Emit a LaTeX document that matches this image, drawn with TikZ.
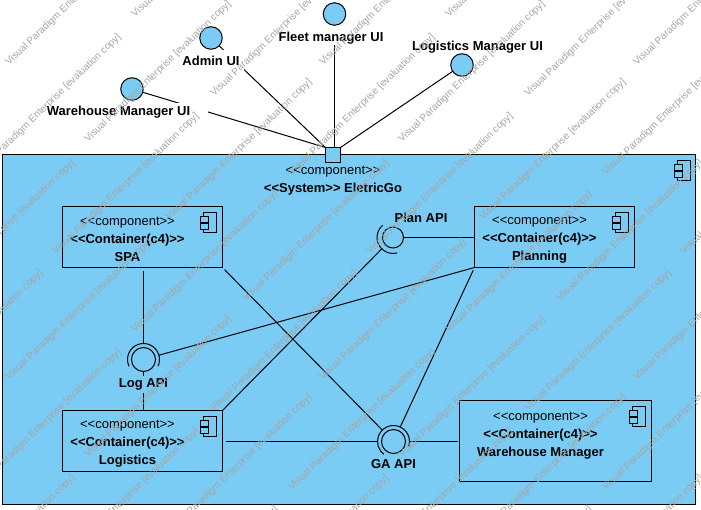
\documentclass[tikz,border=0pt]{standalone}
\usepackage{fontspec}
\setmainfont{Liberation Sans}
\usepackage{xcolor}
\usetikzlibrary{positioning}
\definecolor{vpblue}{RGB}{122,204,245}
\definecolor{vpgray}{RGB}{165,165,165}
\newcommand{\stereo}[1]{<{}<#1>{}>}
\tikzstyle{comp} = [draw=black,fill=vpblue,line width=1pt,rectangle,inner sep=0pt,outer sep=0pt]
\tikzstyle{comptxt} = [align=center,inner sep=0pt,font=\fontsize{13}{18}\selectfont]
\tikzstyle{ball} = [draw=black,fill=vpblue,line width=1pt,circle,inner sep=0pt,outer sep=0pt]
\tikzstyle{socket} = [circle,inner sep=0pt,outer sep=0pt,minimum size=32pt]
\tikzstyle{conn} = [line width=1pt,black]
\tikzstyle{lbl} = [inner sep=0pt,font=\fontsize{13}{15}\selectfont\bfseries,text height=9.3pt,text depth=2.8pt]
\tikzstyle{wmark} = [text=vpgray,rotate=44,anchor=base west,inner sep=0pt,font=\fontsize{10}{12}\selectfont]
\tikzset{compicon/.pic={
  \draw[line width=1pt,fill=vpblue] (0,0) rectangle (13,20);
  \draw[line width=1pt,fill=vpblue] (-3,4) rectangle (5,10);
  \draw[line width=1pt,fill=vpblue] (-3,11) rectangle (5,17);
}}
\begin{document}
\begin{tikzpicture}[x=1pt,y=-1pt]
\useasboundingbox (0,0) rectangle (701,510);
\clip (0,0) rectangle (701,510);
% System box and its port
\node[comp,minimum width=693pt,minimum height=350pt] (system) at (349,329.5) {};
\node[comp,minimum size=15pt] (port) at (333,155) {};

% Containers
\node[comp,minimum width=160pt,minimum height=61pt] (spa) at (142.5,237) {};
\node[comp,minimum width=160pt,minimum height=61pt] (planning) at (554.5,237) {};
\node[comp,minimum width=160pt,minimum height=61pt] (logistics) at (142.5,441) {};
\node[comp,minimum width=192pt,minimum height=81pt] (warehouse) at (555.5,441) {};

% UI circles
\node[ball,minimum size=22.5pt] (warehouseui) at (132,89) {};
\node[ball,minimum size=22.5pt] (adminui) at (211,38) {};
\node[ball,minimum size=22.5pt] (fleetui) at (334.5,14) {};
\node[ball,minimum size=22.5pt] (logisticsui) at (462,65) {};

% Sockets of the APIs
\node[socket] (planapi) at (393,237.5) {};
\node[socket] (logapi) at (143.5,359.5) {};
\node[socket] (gaapi) at (393.5,441.5) {};
\node[ball,minimum size=21pt] (planball) at (393,237.5) {};
\node[ball,minimum size=24pt] (logball) at (143.5,359.5) {};
\node[ball,minimum size=24pt] (gaball) at (393.5,441.5) {};
\draw[conn] (planapi.130) arc[start angle=130,end angle=285,radius=16pt];
\draw[conn] (logapi.-25) arc[start angle=-25,end angle=205,radius=16pt];
\draw[conn] (gaapi.-17) arc[start angle=-17,end angle=233,radius=16pt];

% Connectors
\draw[conn] (warehouseui) -- (port.north west);
\draw[conn] (adminui) -- (port.north west);
\draw[conn] (fleetui) -- (fleetui |- port.north);
\draw[conn] (logisticsui) -- (port.north east);
\draw[conn,shorten <=4pt] (logapi |- spa.south) -- (logapi.north);
\draw[conn] (logball) -- (logapi |- logistics.north);
\draw[conn] (logapi) -- (planning.south west);
\draw[conn] (planball) -- (planball -| planning.west);
\draw[conn] (planapi) -- (logistics.north east);
\draw[conn,shorten <=3pt] (spa.south east) -- (gaapi);
\draw[conn,shorten <=3pt] (planning.south west) -- (gaapi);
\draw[conn,shorten <=3pt] (gaapi -| logistics.east) -- (gaapi);
\draw[conn,shorten >=1.5pt] (gaapi) -- (gaapi -| warehouse.west);

% Labels, which hide the connectors behind them
\node[lbl,fill=white,minimum width=179pt,minimum height=18pt] (warehouselbl) at (118.5,112.5) {Warehouse Manager UI};
\node[lbl,fill=white,minimum width=66pt,minimum height=24pt] (adminlbl) at (211,62) {Admin UI};
\node[lbl,fill=white,anchor=base,text height=15.6pt,text depth=3pt] (fleetlbl) at (331,42) {Fleet manager UI};
\node[lbl] (logisticslbl) at (477.5,47.5) {Logistics Manager UI};
\node[lbl,fill=vpblue] (planlbl) at (421,219) {Plan API};
\node[lbl,fill=vpblue,minimum height=17pt] (loglbl) at (143.5,384.5) {Log API};
\node[lbl,fill=vpblue] (galbl) at (393.5,465) {GA API};

% Texts of the boxes
\node[comptxt] (systemtxt) at (333,180.5) {\stereo{component}\\\textbf{\stereo{System} EletricGo}};
\node[comptxt] (spatxt) at ([xshift=-15pt,yshift=-2.5pt]spa.center) {\stereo{component}\\\textbf{\stereo{Container(c4)}}\\\textbf{SPA}};
\node[comptxt] (planningtxt) at ([xshift=-15pt,yshift=-2.5pt]planning.center) {\stereo{component}\\\textbf{\stereo{Container(c4)}}\\\textbf{Planning}};
\node[comptxt] (logisticstxt) at ([xshift=-15pt,yshift=-2.5pt]logistics.center) {\stereo{component}\\\textbf{\stereo{Container(c4)}}\\\textbf{Logistics}};
\node[comptxt] (warehousetxt) at ([xshift=-15pt,yshift=5.5pt]warehouse.center) {\stereo{component}\\\textbf{\stereo{Container(c4)}}\\\textbf{Warehouse Manager}};

% Component icons
\pic at ([shift={(-18,6)}]system.north east) {compicon};
\pic at ([shift={(-19,6)}]spa.north east) {compicon};
\pic at ([shift={(-19,6)}]planning.north east) {compicon};
\pic at ([shift={(-19,6)}]logistics.north east) {compicon};
\pic at ([shift={(-19,6)}]warehouse.north east) {compicon};

% Watermark
\foreach \wx/\wy in {9/66,88/143,169/221,246/-13,135/18,214/97,292/176,56/255}
  \foreach \i in {-1,0,1,2}
    \foreach \j in {0,1,2}
      \node[wmark] (wm\wx\wy\i\j) at ({\wx+314*\i},{\wy+315*\j}) {Visual Paradigm Enterprise [evaluation copy]};
\end{tikzpicture}
\end{document}
